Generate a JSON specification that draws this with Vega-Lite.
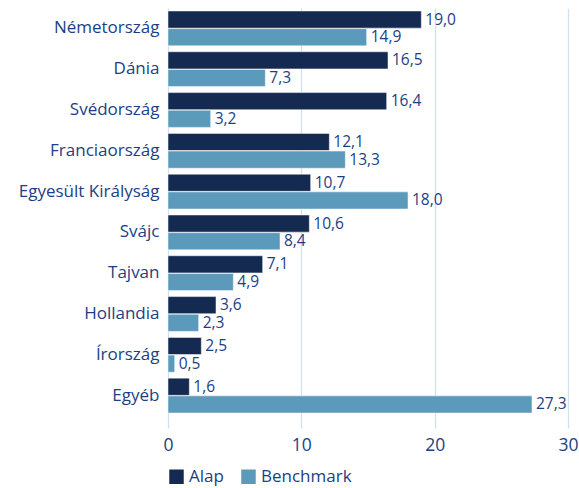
{
  "$schema": "https://vega.github.io/schema/vega-lite/v6.json",
  "autosize": {"type": "none"},
  "padding": {"left": 168, "top": 8, "right": 11, "bottom": 70},
  "width": 400,
  "height": 408,
  "config": {
    "locale": {"number": {"decimal": ",", "thousands": " ", "grouping": [3], "currency": ["", ""]}},
    "view": {"stroke": null},
    "font": "Open Sans"
  },
  "data": {"values": [
    {"country": "Németország", "series": "Alap", "value": 19.0},
    {"country": "Németország", "series": "Benchmark", "value": 14.9},
    {"country": "Dánia", "series": "Alap", "value": 16.5},
    {"country": "Dánia", "series": "Benchmark", "value": 7.3},
    {"country": "Svédország", "series": "Alap", "value": 16.4},
    {"country": "Svédország", "series": "Benchmark", "value": 3.2},
    {"country": "Franciaország", "series": "Alap", "value": 12.1},
    {"country": "Franciaország", "series": "Benchmark", "value": 13.3},
    {"country": "Egyesült Királyság", "series": "Alap", "value": 10.7},
    {"country": "Egyesült Királyság", "series": "Benchmark", "value": 18.0},
    {"country": "Svájc", "series": "Alap", "value": 10.6},
    {"country": "Svájc", "series": "Benchmark", "value": 8.4},
    {"country": "Tajvan", "series": "Alap", "value": 7.1},
    {"country": "Tajvan", "series": "Benchmark", "value": 4.9},
    {"country": "Hollandia", "series": "Alap", "value": 3.6},
    {"country": "Hollandia", "series": "Benchmark", "value": 2.3},
    {"country": "Írország", "series": "Alap", "value": 2.5},
    {"country": "Írország", "series": "Benchmark", "value": 0.5},
    {"country": "Egyéb", "series": "Alap", "value": 1.6},
    {"country": "Egyéb", "series": "Benchmark", "value": 27.3}
  ]},
  "encoding": {
    "y": {
      "field": "country", "type": "nominal", "sort": null,
      "scale": {"paddingInner": 0.146, "paddingOuter": 0.073},
      "axis": {"title": null, "domain": false, "ticks": false, "labelPadding": 9, "labelFontSize": 17, "labelColor": "#1b3f85", "labelFont": "Open Sans"}
    },
    "yOffset": {"field": "series", "type": "nominal", "scale": {"paddingInner": 0.03}},
    "x": {
      "field": "value", "type": "quantitative",
      "scale": {"domain": [0, 30], "nice": false},
      "axis": {"title": null, "values": [0, 10, 20, 30], "domain": false, "grid": true, "gridColor": "#cfe3ee", "gridWidth": 1.3, "tickColor": "#cfe3ee", "tickWidth": 1.3, "tickSize": 12, "labelPadding": 8, "labelFontSize": 17.5, "labelColor": "#1b3f85", "labelFont": "Open Sans", "labelFlush": false}
    }
  },
  "layer": [
    {
      "mark": {"type": "bar", "stroke": "white", "strokeWidth": 0.5},
      "encoding": {
        "color": {
          "field": "series", "type": "nominal",
          "scale": {"domain": ["Alap", "Benchmark"], "range": ["#152a51", "#5b9aba"]},
          "legend": {"title": null, "orient": "none", "legendX": 0, "legendY": 460, "direction": "horizontal", "symbolType": "square", "symbolSize": 210, "symbolStrokeWidth": 0, "labelFontSize": 17, "labelColor": "#1b3f85", "labelFont": "Open Sans", "columnPadding": 16, "labelOffset": 4}
        }
      }
    },
    {
      "mark": {"type": "text", "align": "left", "baseline": "middle", "dx": 4, "fontSize": 15.5, "color": "#1b3f85", "font": "Open Sans"},
      "encoding": {
        "text": {"field": "value", "type": "quantitative", "format": ".1f"}
      }
    }
  ]
}
